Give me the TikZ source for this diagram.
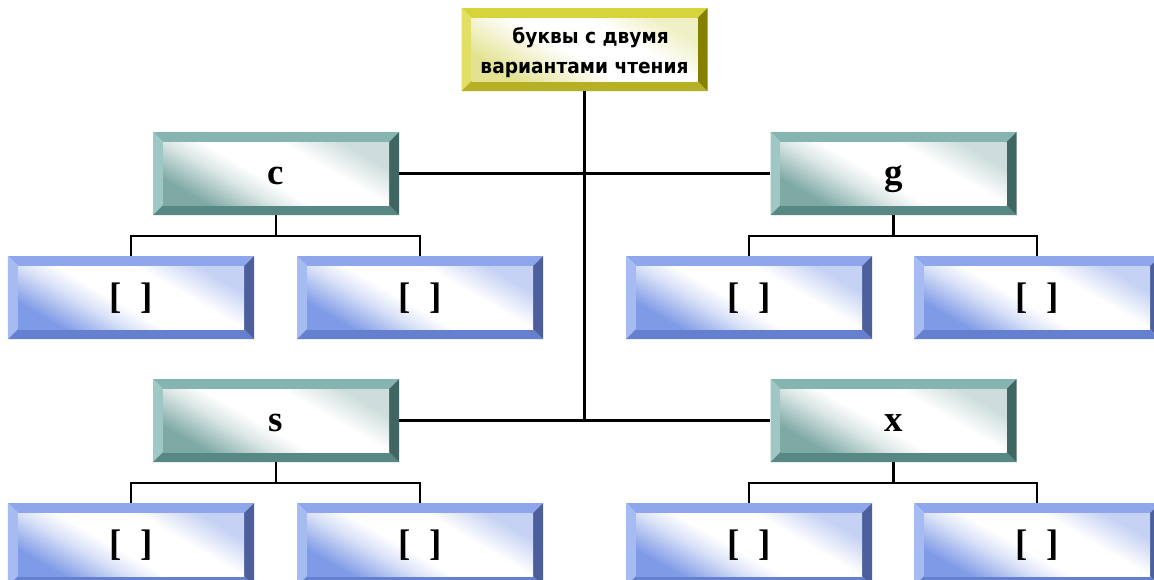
\documentclass[tikz,border=0pt]{standalone}
\usepackage{fontspec}
\setmainfont{Liberation Serif}
\newfontfamily\topfont{DejaVu Sans}[FakeStretch=0.92]
\usepackage{tikz}
\usetikzlibrary{positioning}

\definecolor{tealT}{HTML}{86B4B0}
\definecolor{tealL}{HTML}{9FC7C3}
\definecolor{tealB}{HTML}{578884}
\definecolor{tealR}{HTML}{3F6663}
\definecolor{tealF}{HTML}{7FA9A5}
\definecolor{blueT}{HTML}{8EA7EC}
\definecolor{blueL}{HTML}{A7BBF3}
\definecolor{blueB}{HTML}{6580CF}
\definecolor{blueR}{HTML}{4C5F9C}
\definecolor{blueF}{HTML}{7F9AE6}
\definecolor{yelT}{HTML}{D6D43A}
\definecolor{yelL}{HTML}{E2E064}
\definecolor{yelB}{HTML}{B6B024}
\definecolor{yelR}{HTML}{868000}
\definecolor{yelF}{HTML}{E2E290}

\pgfdeclarehorizontalshading{tealface}{100bp}{color(0bp)=(tealF); color(25bp)=(tealF); color(38bp)=(tealF!30); color(46bp)=(white); color(62bp)=(white); color(75bp)=(tealF!40); color(100bp)=(tealF!40)}
\pgfdeclarehorizontalshading{blueface}{100bp}{color(0bp)=(blueF); color(25bp)=(blueF); color(38bp)=(blueF!30); color(46bp)=(white); color(62bp)=(white); color(75bp)=(blueF!45); color(100bp)=(blueF!45)}
\pgfdeclarehorizontalshading{yelface}{100bp}{color(0bp)=(yelF); color(25bp)=(yelF); color(38bp)=(yelF!35); color(46bp)=(white); color(62bp)=(white); color(75bp)=(yelF!50); color(100bp)=(yelF!50)}

\newcommand\bev{0.2cm}

\tikzset{
  bevelbox/.style n args={5}{minimum width=4.92cm, minimum height=1.66cm, inner sep=0pt,
    path picture={
      \path (path picture bounding box.south west) coordinate (bsw)
            (path picture bounding box.north east) coordinate (bne)
            (path picture bounding box.south east) coordinate (bse)
            (path picture bounding box.north west) coordinate (bnw);
      \fill[#1] (bnw) -- (bne) -- ([shift={(-\bev,-\bev)}]bne) -- ([shift={(\bev,-\bev)}]bnw) -- cycle;
      \fill[#2] (bnw) -- (bsw) -- ([shift={(\bev,\bev)}]bsw) -- ([shift={(\bev,-\bev)}]bnw) -- cycle;
      \fill[#3] (bsw) -- (bse) -- ([shift={(-\bev,\bev)}]bse) -- ([shift={(\bev,\bev)}]bsw) -- cycle;
      \fill[#4] (bse) -- (bne) -- ([shift={(-\bev,-\bev)}]bne) -- ([shift={(-\bev,\bev)}]bse) -- cycle;
      \shade[shading=#5, shading angle=60] ([shift={(\bev,\bev)}]bsw) rectangle ([shift={(-\bev,-\bev)}]bne);
    }},
  tealbox/.style={bevelbox={tealT}{tealL}{tealB}{tealR}{tealface}, text height=15pt, text depth=2pt, font=\fontsize{21}{25}\selectfont\bfseries},
  bluebox/.style={bevelbox={blueT}{blueL}{blueB}{blueR}{blueface}, text height=15pt, text depth=3pt, font=\fontsize{21}{25}\selectfont\bfseries},
  yelbox/.style={bevelbox={yelT}{yelL}{yelB}{yelR}{yelface}, align=center, font=\topfont\fontsize{11.5}{17}\selectfont\bfseries},
  link/.style={line width=1.3pt}
}

\begin{document}
\begin{tikzpicture}
\clip (0,0) rectangle (23.08,-11.6);
\path[use as bounding box] (0,0) rectangle (23.08,-11.6);
%top box
\node[yelbox] (top) at (11.69,-.99) {\rule{0pt}{13pt}\hspace{.6em}буквы с двумя\\вариантами чтения};
%letters
\node[tealbox] (c) at (5.52,-3.47) {c};
\node[tealbox] (g) at (17.87,-3.47) {g};
\node[tealbox] (s) at (5.52,-8.41) {s};
\node[tealbox] (x) at (17.87,-8.41) {x};
%sounds, first row
\node[bluebox] (c1) at (2.62,-5.95) {[\ \ ]};
\node[bluebox] (c2) at (8.40,-5.95) {[\ \ ]};
\node[bluebox] (g1) at (14.98,-5.95) {[\ \ ]};
\node[bluebox] (g2) at (20.74,-5.95) {[\ \ ]};
%sounds, second row
\node[bluebox] (s1) at (2.62,-10.89) {[\ \ ]};
\node[bluebox] (s2) at (8.40,-10.89) {[\ \ ]};
\node[bluebox] (x1) at (14.98,-10.89) {[\ \ ]};
\node[bluebox] (x2) at (20.74,-10.89) {[\ \ ]};
%trunk
\coordinate (end) at (top.south |- s.east);
\draw[link] (top.south) -- (end);
\draw[link] (c.east) -- (g.west);
\draw[link] (s.east) -- (x.west);
%branches
\foreach \p in {c,g,s,x}{
  \draw[link] (\p.south) -- ++(0,-.42) -| (\p1.north);
  \draw[link] (\p.south) -- ++(0,-.42) -| (\p2.north);
}
\end{tikzpicture}
\end{document}
